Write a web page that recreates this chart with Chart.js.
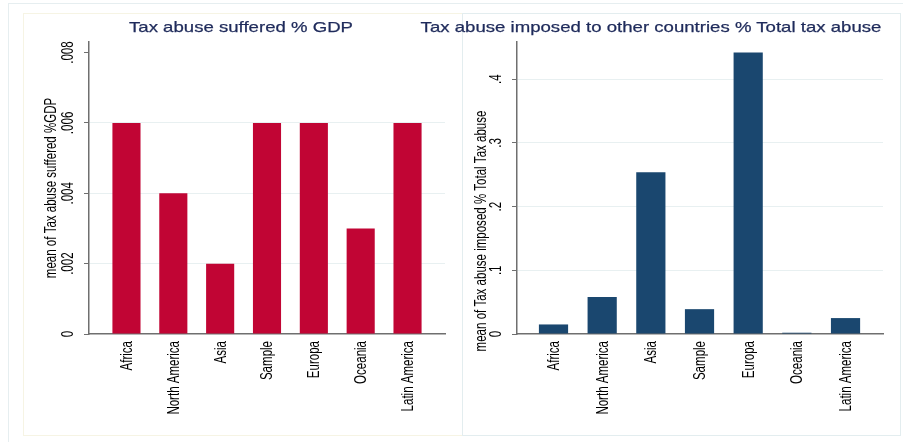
<!DOCTYPE html>
<html><head><meta charset="utf-8">
<script src="https://cdn.jsdelivr.net/npm/chart.js@4"></script>
<style>
html,body{margin:0;padding:0;background:#fff;width:903px;height:442px;overflow:hidden;position:relative}
canvas{position:absolute;top:0}
#c1{left:0}
#c2{left:455px}
.frame{position:absolute;box-sizing:border-box}
.t{position:absolute;top:18px;font-family:'Liberation Sans',Arial,sans-serif;font-size:15px;line-height:18px;color:#1f2b5b;white-space:nowrap;transform:translateX(-50%) scaleX(1.24);z-index:5;-webkit-text-stroke:0.25px #1f2b5b}
</style></head>
<body>
<div class="frame" style="left:8px;top:3px;width:900px;height:445px;border-top:1px solid #e6eef0;border-left:1px solid #e6eef0"></div>
<div class="frame" style="left:23px;top:13px;width:440px;height:423px;border:1px solid #f6f4e4"></div>
<div class="frame" style="left:462px;top:13px;width:439px;height:423px;border:1px solid #e3edef"></div>
<canvas id="c1" width="455" height="442"></canvas>
<canvas id="c2" width="448" height="442"></canvas>
<div class="t" id="t1" style="left:241px">Tax abuse suffered % GDP</div>
<div class="t" id="t2" style="left:651px">Tax abuse imposed to other countries % Total tax abuse</div>
<script>
// ---- data ----
const categories = ['Africa', 'North America', 'Asia', 'Sample', 'Europa', 'Oceania', 'Latin America'];
const sufferedValues = [0.006, 0.004, 0.002, 0.006, 0.006, 0.003, 0.006];
const imposedValues = [0.015, 0.058, 0.254, 0.039, 0.442, 0.002, 0.025];
const sufferedTicks = [0, 0.002, 0.004, 0.006, 0.008];
const sufferedTickLabels = ['0', '.002', '.004', '.006', '.008'];
const imposedTicks = [0, 0.1, 0.2, 0.3, 0.4];
const imposedTickLabels = ['0', '.1', '.2', '.3', '.4'];
const sufferedTitle = 'mean of Tax abuse suffered %GDP';
const imposedTitle = 'mean of Tax abuse imposed % Total Tax abuse';

const FONT = '16px "Liberation Sans", Arial, sans-serif';
const SQUEEZE = 0.72;
const AXIS = '#6f6f6f';
const GRID = '#e8f0f1';

function vText(ctx, text, x, y, align) {
  ctx.save();
  ctx.translate(x, y);
  ctx.rotate(-Math.PI / 2);
  ctx.scale(SQUEEZE, 1);
  ctx.textAlign = align;
  ctx.fillText(text, 0, 0);
  ctx.restore();
}

function decor(tickLabels, title, tickX, titleX, titleY) {
  return {
    id: 'decor',
    afterDraw(chart) {
      const ctx = chart.ctx, y = chart.scales.y, x = chart.scales.x;
      ctx.save();
      ctx.fillStyle = '#000';
      ctx.font = FONT;
      ctx.textBaseline = 'middle';
      y.ticks.forEach((t, i) => vText(ctx, tickLabels[i], tickX, y.getPixelForValue(t.value), 'center'));
      const ty = titleY == null ? (chart.chartArea.top + chart.chartArea.bottom) / 2 : titleY;
      vText(ctx, title, titleX, ty, 'center');
      categories.forEach((c, i) => vText(ctx, c, x.getPixelForValue(i) + 1, chart.chartArea.bottom + 7, 'right'));
      ctx.restore();
    }
  };
}

function makeChart(id, values, color, ticks, tickLabels, title, o) {
  return new Chart(document.getElementById(id), {
    type: 'bar',
    data: {
      datasets: [{
        data: categories.map((c, i) => ({ x: i, y: values[i] })),
        backgroundColor: color,
        borderWidth: 0,
        barPercentage: 0.6,
        categoryPercentage: 1.0
      }]
    },
    options: {
      responsive: false,
      animation: false,
      layout: { padding: { top: 42, right: o.padRight, left: 0, bottom: 0 } },
      plugins: { legend: { display: false }, tooltip: { enabled: false } },
      scales: {
        x: {
          type: 'linear',
          offset: false,
          min: o.xmin, max: o.xmax,
          afterBuildTicks: s => { s.ticks = categories.map((c, i) => ({ value: i })); },
          afterFit: s => { s.height = 108; },
          ticks: { display: false },
          grid: { display: true, drawOnChartArea: false, drawTicks: false, color: 'rgba(0,0,0,0)' },
          border: { display: true, color: AXIS, width: 1.5 }
        },
        y: {
          min: 0, max: o.ymax,
          afterBuildTicks: s => { s.ticks = ticks.map(v => ({ value: v })); },
          afterFit: s => { s.width = o.axisLeft; },
          ticks: { display: false },
          grid: {
            color: ctx => (ctx.tick && (ctx.tick.value === 0 || ctx.tick.value === o.noGrid)) ? 'rgba(0,0,0,0)' : GRID,
            lineWidth: 1,
            drawTicks: true, tickLength: 5, tickColor: AXIS, tickWidth: 1
          },
          border: { display: true, color: AXIS, width: 1.5 }
        }
      }
    },
    plugins: [decor(tickLabels, title, o.tickX, o.titleX, o.titleY)]
  });
}

makeChart('c1', sufferedValues, '#c10534', sufferedTicks, sufferedTickLabels, sufferedTitle,
  { padRight: 10, xmin: -0.8, xmax: 6.8, ymax: 0.0083, axisLeft: 89, tickX: 69, titleX: 52, titleY: null, noGrid: 0.008 });
makeChart('c2', imposedValues, '#1a476f', imposedTicks, imposedTickLabels, imposedTitle,
  { padRight: 20, xmin: -0.75, xmax: 6.77, ymax: 0.4585, axisLeft: 62, tickX: 42, titleX: 27, titleY: 231, noGrid: null });
</script>
</body></html>
